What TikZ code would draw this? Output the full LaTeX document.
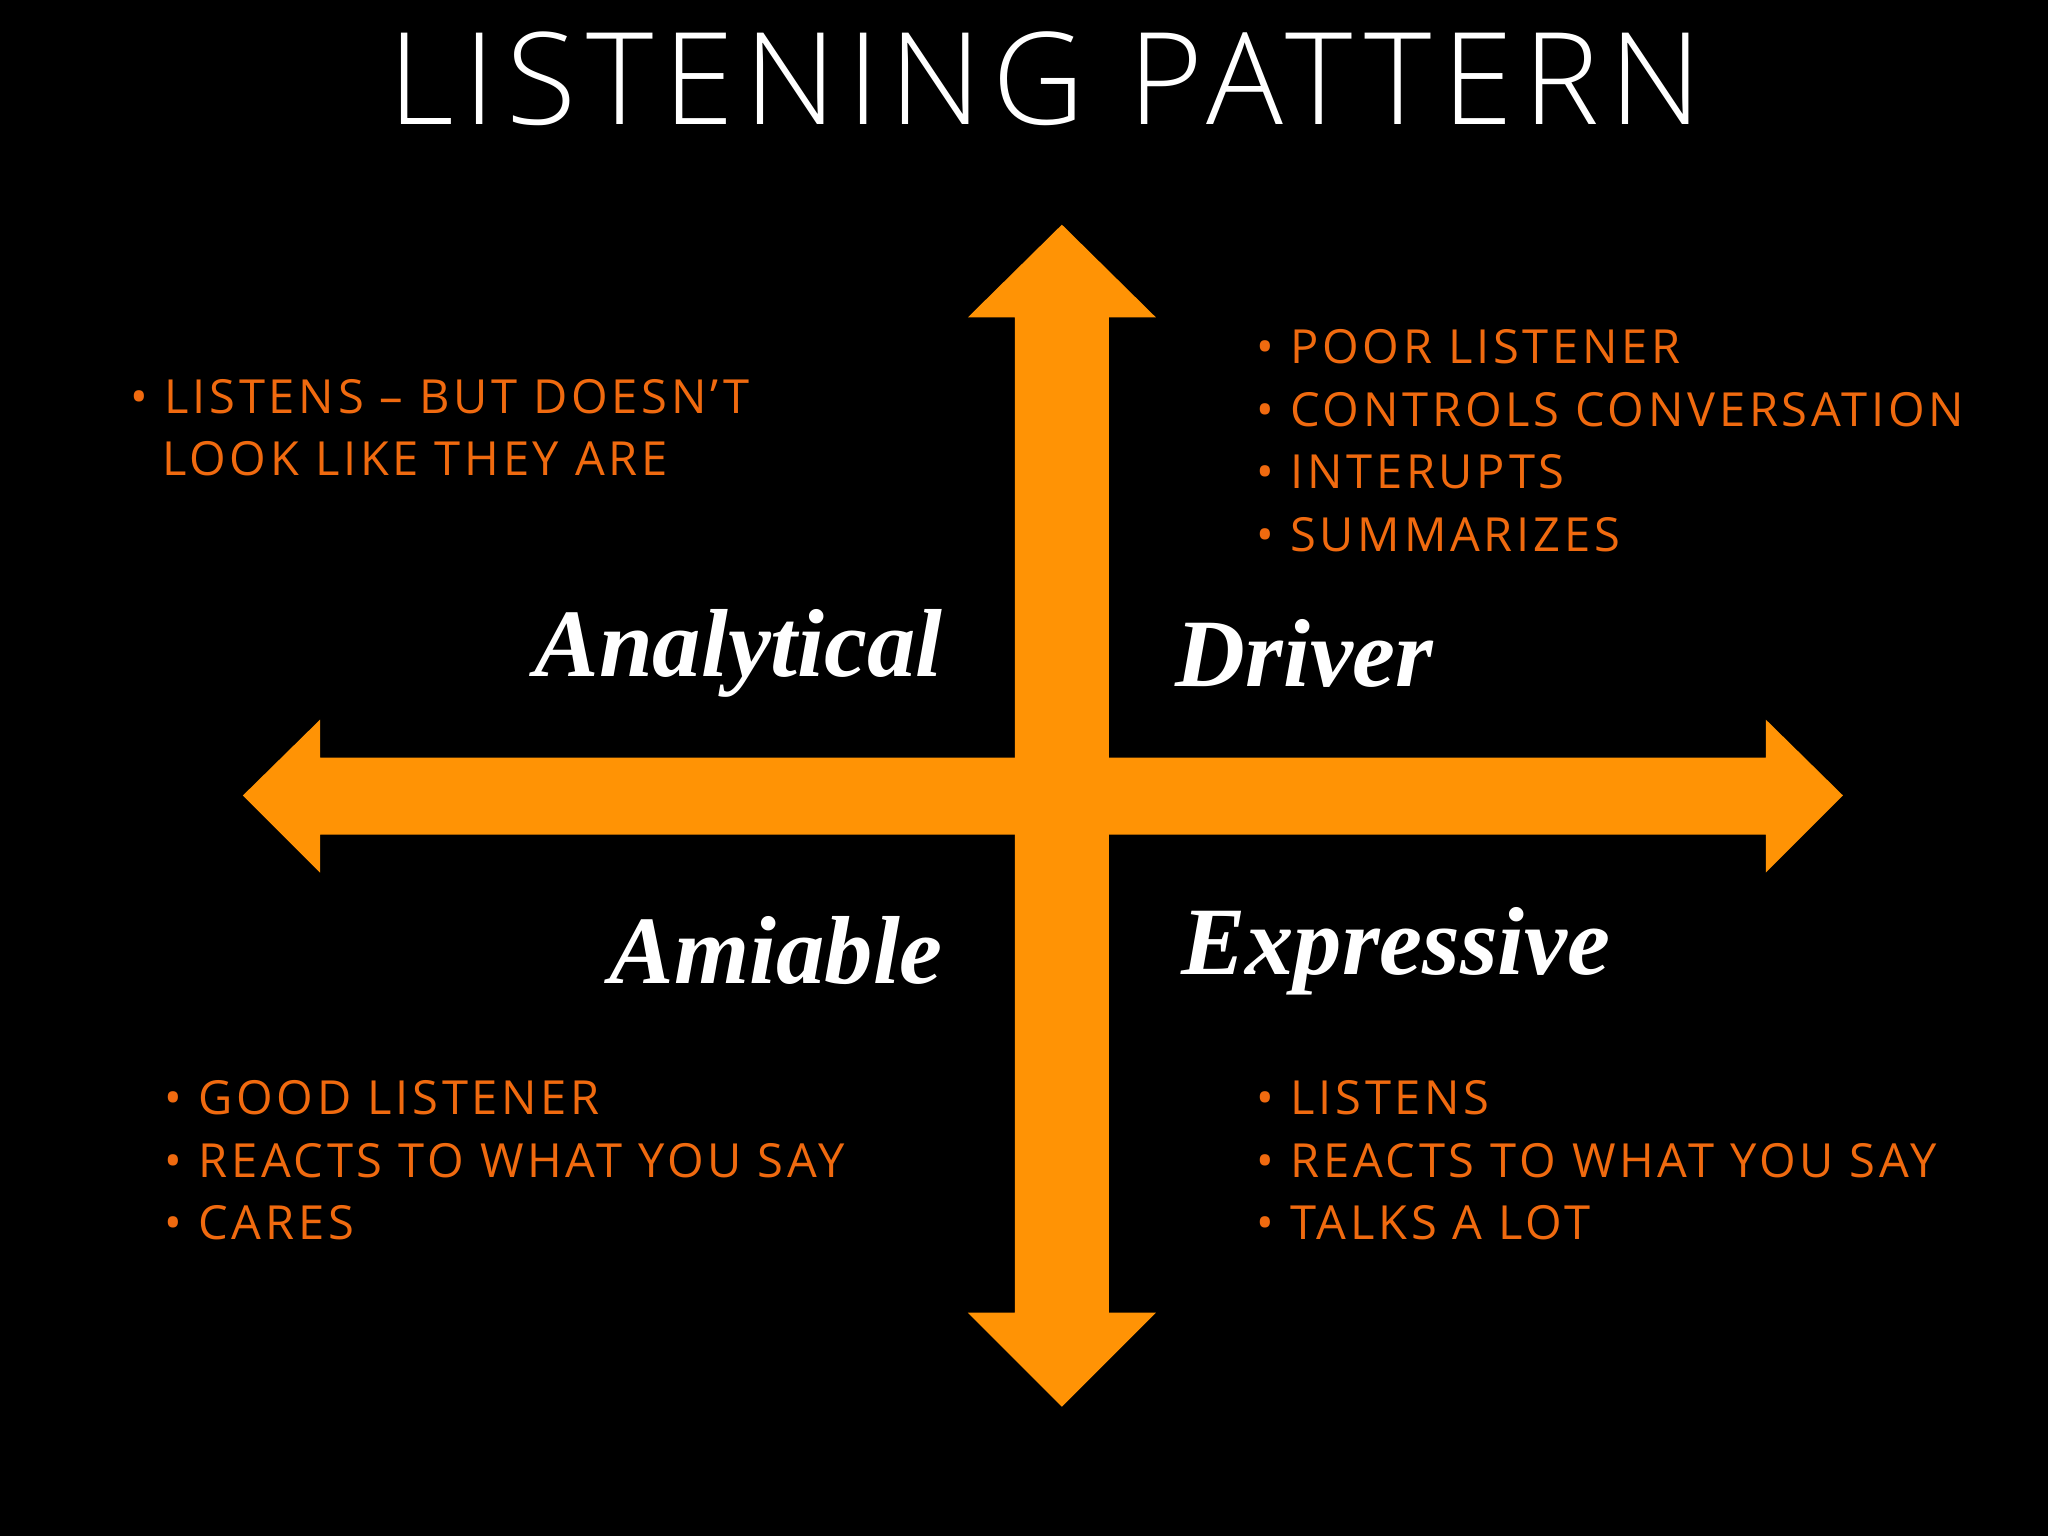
\documentclass[tikz,border=0pt]{standalone}
\usepackage{fontspec}
\setmainfont{Open Sans}
\newfontfamily\titlefont[LetterSpace=8]{Open Sans Light}
\newfontfamily\bulfont[LetterSpace=8]{Open Sans}
\newfontfamily\labfont{Liberation Serif}
\definecolor{org}{HTML}{FF9305}
\definecolor{txt}{HTML}{F06A0F}
\begin{document}
\begin{tikzpicture}[x=1pt,y=-1pt,
  bul/.style={anchor=north west,text=txt,font=\bulfont\fontsize{36}{48}\selectfont,align=left,inner sep=0pt},
  lab/.style={text=white,font=\labfont\bfseries\itshape\fontsize{74}{80}\selectfont,inner sep=0pt}]
\fill[black] (0,0) rectangle (1568,1176);
\useasboundingbox (0,0) rectangle (1568,1176);
\fill[org] (813,172) -- (885,243) -- (849,243) -- (849,1005) -- (885,1005) -- (813,1077) -- (741,1005) -- (777,1005) -- (777,243) -- (741,243) -- cycle;
\fill[org] (186,609) -- (245,551) -- (245,580) -- (1352,580) -- (1352,551) -- (1411,609) -- (1352,668) -- (1352,639) -- (245,639) -- (245,668) -- cycle;
\node[text=white,font=\titlefont\fontsize{98}{100}\selectfont,inner sep=0pt] (title) at (800,60) {LISTENING PATTERN};
\node[bul] (a) at (100,290) {• LISTENS – BUT DOESN’T\\\hspace*{24pt}LOOK LIKE THEY ARE};
\node[bul] (d) at (962,252) {• POOR LISTENER\\• CONTROLS CONVERSATION\\• INTERUPTS\\• SUMMARIZES};
\node[bul] (m) at (126,827) {• GOOD LISTENER\\• REACTS TO WHAT YOU SAY\\• CARES};
\node[bul] (e) at (962,827) {• LISTENS\\• REACTS TO WHAT YOU SAY\\• TALKS A LOT};
\node[lab,anchor=east] (an) at (722,500) {Analytical};
\node[lab,anchor=west] (dr) at (900,500) {Driver};
\node[lab,anchor=east] (am) at (722,728) {Amiable};
\node[lab,anchor=west] (ex) at (904,728) {Expressive};
\end{tikzpicture}
\end{document}
